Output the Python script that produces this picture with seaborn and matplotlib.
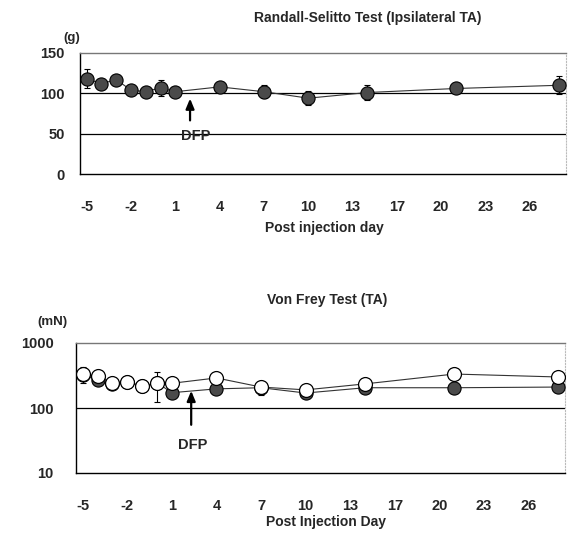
import numpy as np
import pandas as pd
import matplotlib
matplotlib.use("Agg")
import matplotlib.pyplot as plt
import seaborn as sns

# ---------------- data (x = position on the day axis) ----------------
rs_pos = [-5, -4, -3, -2, -1, 0, 1, 4, 7, 10, 14, 20, 27]
rs_val = [118, 112, 117, 104, 102, 107, 102, 108, 102, 94, 101, 106, 110]
rs_err = [12, 5, 5, 4, 4, 10, 4, 5, 8, 9, 9, 4, 11]

vf_pos = [-5, -4, -3, -2, -1, 0, 1, 4, 7, 10, 14, 20, 27]
vf_filled = [320, 270, 235, 250, 215, 245, 172, 197, 205, 170, 205, 205, 210]
vf_filled_err = [20, 20, 15, 15, 15, 20, 15, 15, 15, 25, 15, 15, 15]
vf_open = [333, 310, 242, 254, 218, 240, 240, 290, 210, 190, 235, 333, 300]
vf_open_err = [90, 20, 15, 15, 15, 115, 15, 15, 50, 15, 15, 15, 15]

tick_pos = [-5, -2, 1, 4, 7, 10, 13, 16, 19, 22, 25]
tick_labels = ["-5", "-2", "1", "4", "7", "10", "13", "17", "20", "23", "26"]

rs_yticks = [0, 50, 100, 150]
vf_yticks = [10, 100, 1000]

# ---------------- style ----------------
sns.set_style("white")
plt.rcParams['font.family'] = ['Liberation Sans', 'DejaVu Sans']
plt.rcParams['font.weight'] = 'bold'

fig = plt.figure(figsize=(5.68, 5.38), dpi=100)
ax1 = fig.add_axes([80/568, 1-174/538, 486/568, 121/538])
ax2 = fig.add_axes([76/568, 1-473/538, 489/568, 130/538])

FILL = "#4a4a4a"


def style_axis(ax):
    ax.set_xlim(-5.45, 27.45)
    ax.set_xticks([p - 0.5 for p in tick_pos[1:]])
    ax.set_xticklabels([])
    ax.set_xticks(tick_pos, minor=True)
    ax.set_xticklabels(tick_labels, minor=True, fontsize=10.5, fontweight='bold')
    ax.tick_params(axis='x', which='major', direction='in', length=4, width=0.8, color='black')
    ax.tick_params(axis='x', which='minor', length=0, pad=19)
    ax.tick_params(axis='y', length=0, labelsize=10.5)
    for lab in ax.get_yticklabels():
        lab.set_fontweight('bold')
    for s in ['left', 'bottom']:
        ax.spines[s].set_color('black')
        ax.spines[s].set_linewidth(1.0)
    ax.spines['top'].set_color('#777777')
    ax.spines['top'].set_linewidth(1.0)
    ax.spines['right'].set_color('#bbbbbb')
    ax.spines['right'].set_linestyle(':')
    ax.spines['right'].set_linewidth(0.8)


# ---------------- top: Randall-Selitto ----------------
df1 = pd.DataFrame({"pos": rs_pos, "val": rs_val})
ax1.set_ylim(0, 150)
ax1.set_yticks(rs_yticks)
ax1.set_yticklabels([str(v) for v in rs_yticks], fontweight='bold')
for v in [50, 100]:
    ax1.axhline(v, color='black', lw=0.9, zorder=1)
ax1.errorbar(rs_pos, rs_val, yerr=rs_err, fmt='none', ecolor='black',
             elinewidth=0.8, capsize=2.5, capthick=0.8, zorder=2)
sns.lineplot(data=df1, x="pos", y="val", ax=ax1, color='#333333', lw=0.8,
             marker='o', markersize=9.5, markerfacecolor=FILL,
             markeredgecolor='black', markeredgewidth=0.8, zorder=3)
style_axis(ax1)
ax1.tick_params(axis='y', pad=11)
ax1.set_xlabel("Post injection day", fontsize=10, fontweight='bold')
ax1.xaxis.set_label_coords(0.502, -0.446)
ax1.xaxis.label.set_va('center')
ax1.set_ylabel("")
ax1.text(0.593, 1.289, "Randall\u2010Selitto Test (Ipsilateral TA)", transform=ax1.transAxes,
         ha='center', va='center', fontsize=10, fontweight='bold')
ax1.text(-0.016, 1.124, "(g)", transform=ax1.transAxes, ha='center', va='center',
         fontsize=9.5, fontweight='bold')
ax1.annotate("", xy=(2, 97), xytext=(2, 63),
             arrowprops=dict(arrowstyle='-|>,head_length=0.6,head_width=0.25',
                             color='black', lw=1.6))
ax1.text(2.4, 47, "DFP", ha='center', va='center', fontsize=10.5, fontweight='bold',
         zorder=4)

# ---------------- bottom: Von Frey ----------------
df2 = pd.DataFrame({"pos": vf_pos, "filled": vf_filled, "open": vf_open})
ax2.set_yscale('log')
ax2.set_ylim(10, 1000)
ax2.set_yticks(vf_yticks)
ax2.set_yticklabels([str(v) for v in vf_yticks], fontweight='bold')
ax2.minorticks_off()
ax2.axhline(100, color='black', lw=0.9, zorder=1)
ax2.errorbar(vf_pos, vf_filled, yerr=vf_filled_err, fmt='none', ecolor='black',
             elinewidth=0.8, capsize=2.5, capthick=0.8, zorder=2)
sns.lineplot(data=df2, x="pos", y="filled", ax=ax2, color='#333333', lw=0.8,
             marker='o', markersize=9.5, markerfacecolor=FILL,
             markeredgecolor='black', markeredgewidth=0.8, zorder=3)
ax2.errorbar(vf_pos, vf_open, yerr=vf_open_err, fmt='none', ecolor='black',
             elinewidth=0.8, capsize=2.5, capthick=0.8, zorder=4)
sns.lineplot(data=df2, x="pos", y="open", ax=ax2, color='#333333', lw=0.8,
             marker='o', markersize=10, markerfacecolor='white',
             markeredgecolor='black', markeredgewidth=0.9, zorder=5)
style_axis(ax2)
ax2.set_xticks(tick_pos, minor=True)
ax2.set_xticklabels(tick_labels, minor=True, fontsize=10.5, fontweight='bold')
ax2.tick_params(axis='y', pad=16)
ax2.set_xlabel("Post Injection Day", fontsize=10, fontweight='bold')
ax2.xaxis.set_label_coords(0.511, -0.377)
ax2.xaxis.label.set_va('center')
ax2.set_ylabel("")
ax2.text(0.513, 1.331, "Von Frey Test (TA)", transform=ax2.transAxes,
         ha='center', va='center', fontsize=10, fontweight='bold')
ax2.text(-0.049, 1.162, "(mN)", transform=ax2.transAxes, ha='center', va='center',
         fontsize=9.5, fontweight='bold')
ax2.annotate("", xy=(2.3, 203), xytext=(2.3, 50),
             arrowprops=dict(arrowstyle='-|>,head_length=0.6,head_width=0.25',
                             color='black', lw=1.6))
ax2.text(2.4, 27, "DFP", ha='center', va='center', fontsize=10.5, fontweight='bold')

fig.savefig("out.png", dpi=100)
